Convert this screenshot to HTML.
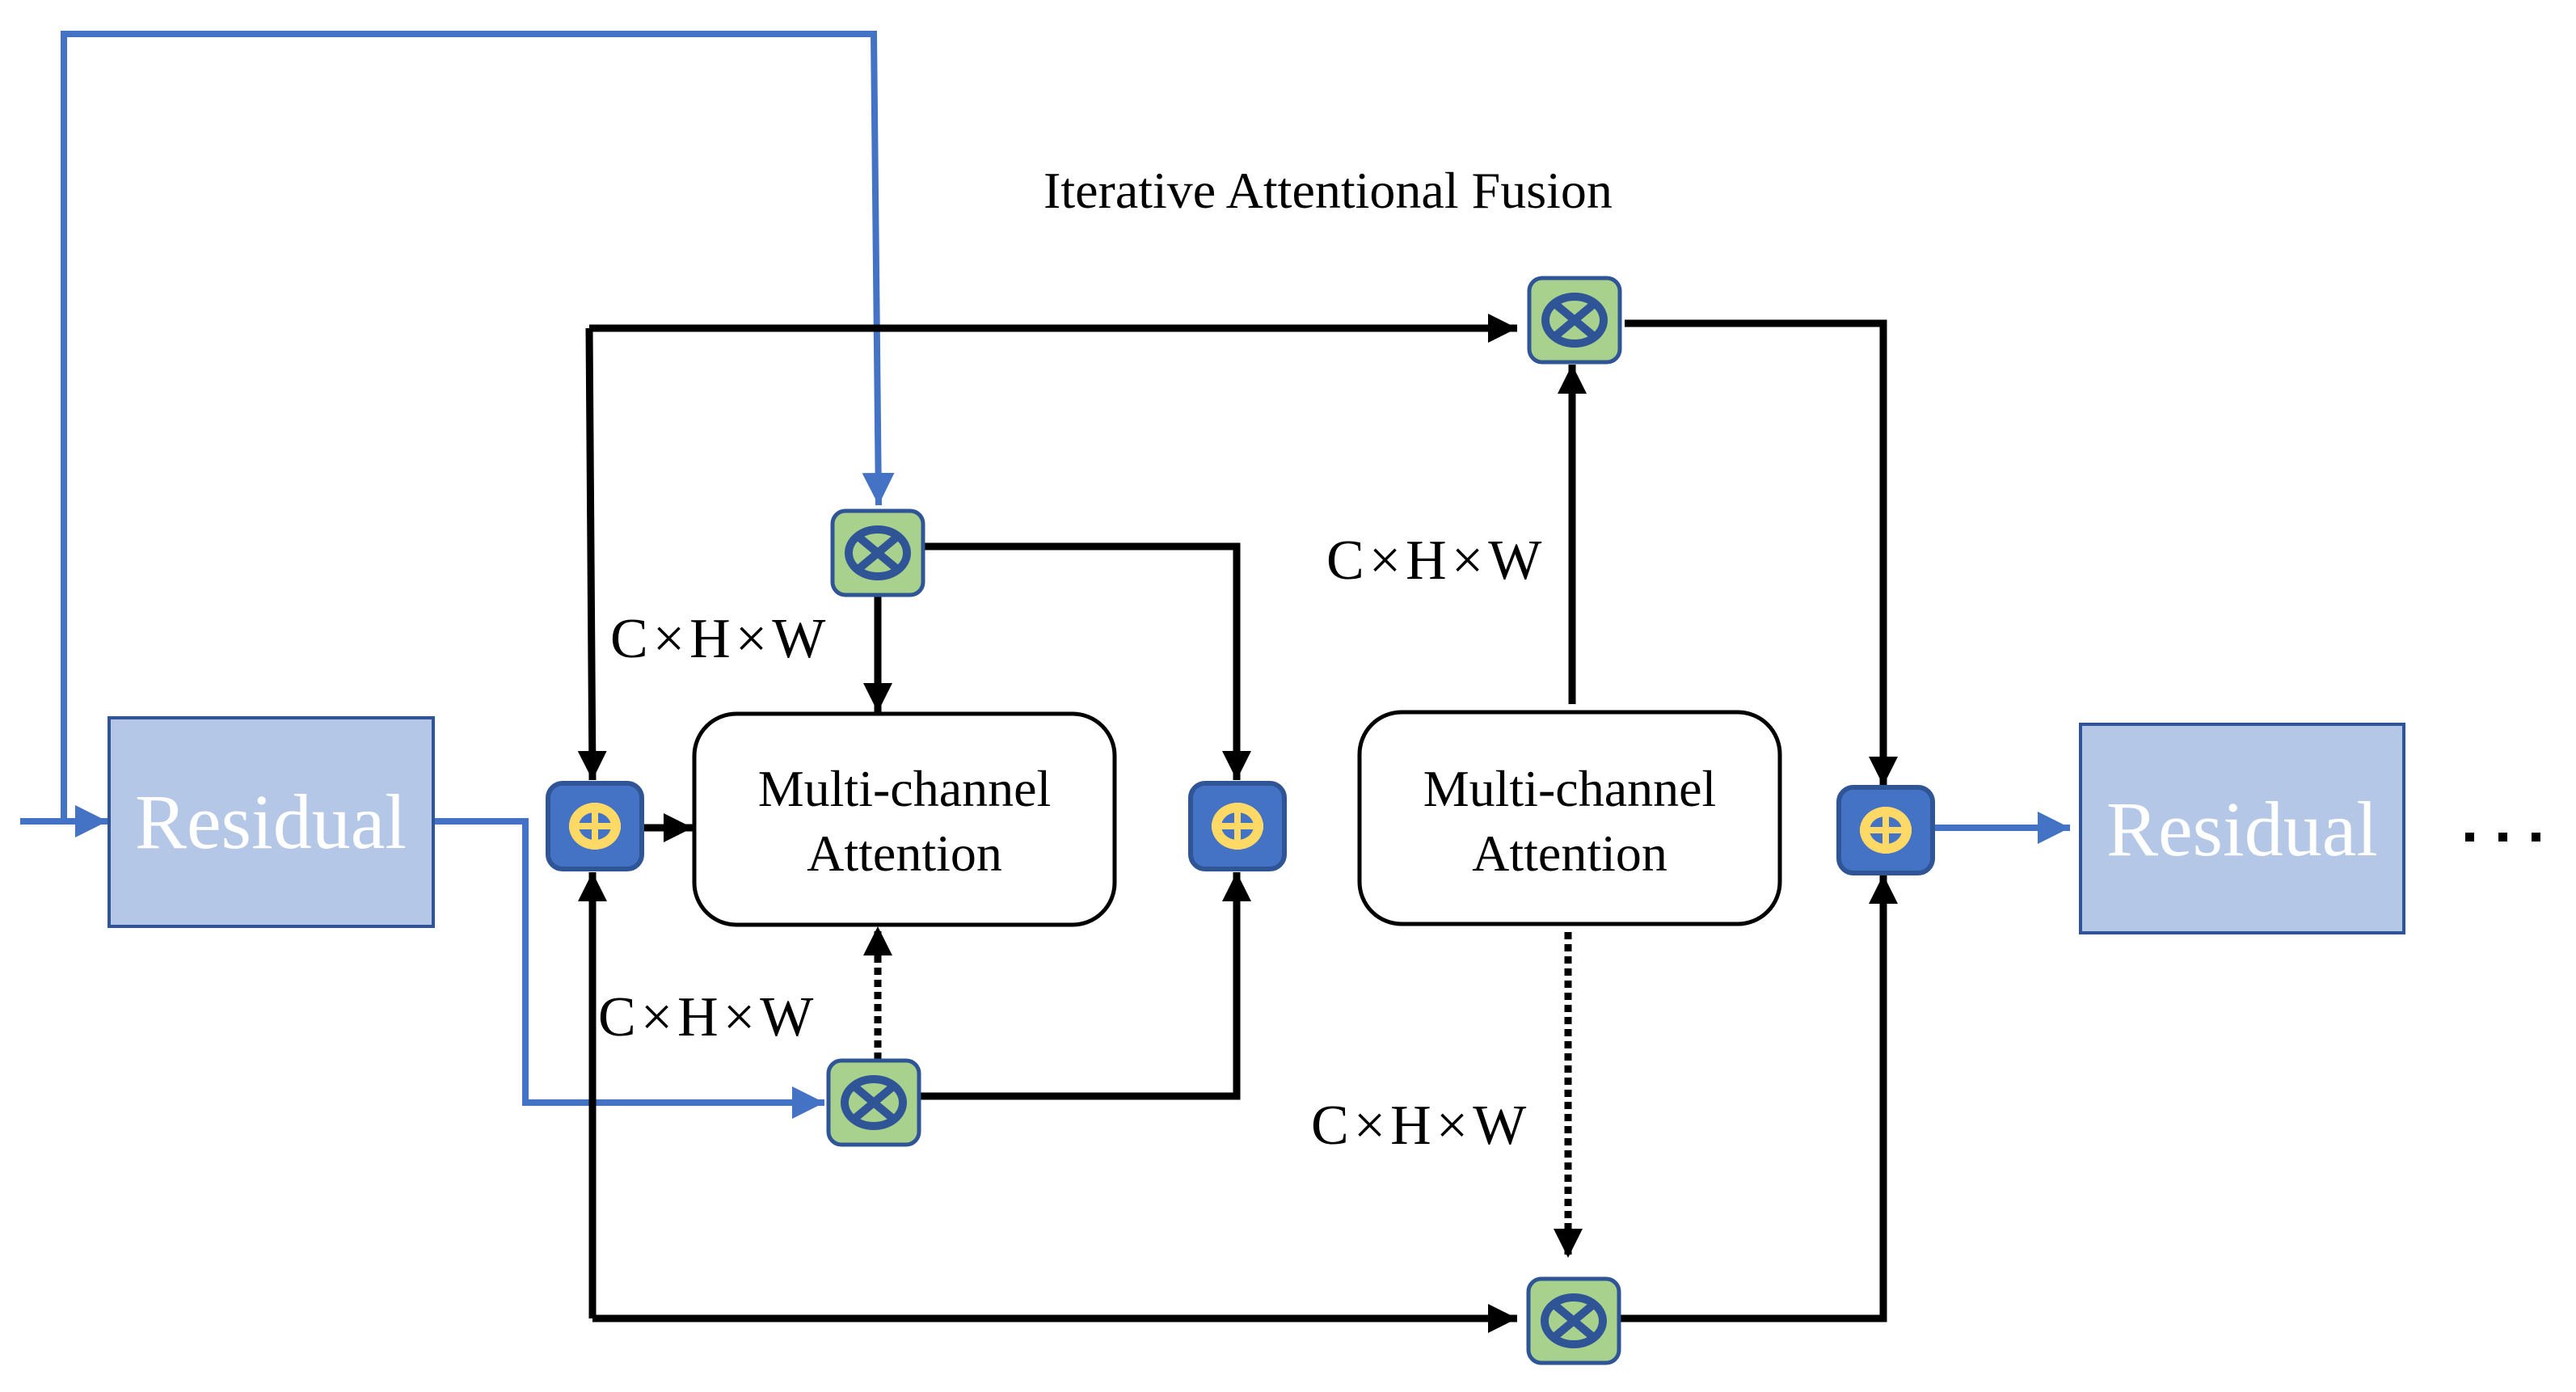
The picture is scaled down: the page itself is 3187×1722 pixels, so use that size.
<!DOCTYPE html>
<html><head><meta charset="utf-8"><style>
html,body{margin:0;padding:0;background:#fff}
svg{display:block}
text{font-family:"Liberation Serif",serif}
</style></head><body>
<svg width="3187" height="1722" viewBox="0 0 3187 1722" xmlns="http://www.w3.org/2000/svg">
<defs>
<marker id="ab" viewBox="0 0 10 10" refX="10" refY="5" markerWidth="4" markerHeight="4" orient="auto" markerUnits="strokeWidth"><path d="M0,0L10,5L0,10z" fill="#000"/></marker>
<marker id="abl" viewBox="0 0 10 10" refX="10" refY="5" markerWidth="5" markerHeight="5" orient="auto" markerUnits="strokeWidth"><path d="M0,0L10,5L0,10z" fill="#4472C4"/></marker>
<g id="mul">
<rect x="-56" y="-52" width="112" height="104" rx="16" fill="#A9D18E" stroke="#2F5597" stroke-width="5"/>
<ellipse cx="0" cy="0" rx="36" ry="29" fill="none" stroke="#2F5597" stroke-width="10"/>
<line x1="-24" y1="-20" x2="24" y2="20" stroke="#2F5597" stroke-width="10"/>
<line x1="-24" y1="20" x2="24" y2="-20" stroke="#2F5597" stroke-width="10"/>
</g>
<g id="plus">
<rect x="-58" y="-53" width="116" height="106" rx="18" fill="#4472C4" stroke="#2F5597" stroke-width="6"/>
<ellipse cx="0" cy="0" rx="32" ry="29" fill="#FFD966"/>
<ellipse cx="0" cy="0" rx="20" ry="17" fill="#4472C4"/>
<rect x="-4" y="-29" width="8" height="58" fill="#FFD966"/>
<rect x="-32" y="-4" width="64" height="8" fill="#FFD966"/>
</g>
</defs>

<g fill="none" stroke="#4472C4" stroke-width="8">
<polyline points="79,1016 79,42 1081,42 1087,625" marker-end="url(#abl)"/>
<line x1="25" y1="1016" x2="133" y2="1016" marker-end="url(#abl)"/>
<polyline points="536,1016 650,1016 650,1364 1020,1364" marker-end="url(#abl)"/>
<line x1="2391" y1="1024" x2="2561" y2="1024" marker-end="url(#abl)"/>
</g>

<g fill="none" stroke="#000" stroke-width="9">
<line x1="729" y1="406" x2="1877" y2="406" marker-end="url(#ab)"/>
<polyline points="729,406 733,965" marker-end="url(#ab)"/>
<line x1="733" y1="1631" x2="1877" y2="1631" marker-end="url(#ab)"/>
<polyline points="733,1631 733,1079" marker-end="url(#ab)"/>
<line x1="794" y1="1024" x2="857" y2="1024" marker-end="url(#ab)"/>
<line x1="1086" y1="736" x2="1086" y2="881" marker-end="url(#ab)"/>
<polyline points="1143,676 1530,676 1530,965" marker-end="url(#ab)"/>
<polyline points="1138,1356 1530,1356 1530,1079" marker-end="url(#ab)"/>
<line x1="1945" y1="871" x2="1945" y2="451" marker-end="url(#ab)"/>
<polyline points="2010,400 2330,400 2330,972" marker-end="url(#ab)"/>
<polyline points="2004,1631 2330,1631 2330,1082" marker-end="url(#ab)"/>
<line x1="1086" y1="1311" x2="1086" y2="1146" stroke-dasharray="9,6" marker-end="url(#ab)"/>
<line x1="1940" y1="1153" x2="1940" y2="1556" stroke-dasharray="9,6" marker-end="url(#ab)"/>
</g>

<rect x="135" y="888" width="401" height="258" fill="#B4C7E7" stroke="#2F5597" stroke-width="4"/>
<text x="335" y="1049" font-size="96" fill="#fff" text-anchor="middle">Residual</text>
<rect x="2574" y="896" width="400" height="258" fill="#B4C7E7" stroke="#2F5597" stroke-width="4"/>
<text x="2774" y="1058" font-size="96" fill="#fff" text-anchor="middle">Residual</text>

<rect x="859" y="883" width="520" height="261" rx="52" fill="#fff" stroke="#000" stroke-width="5"/>
<text x="1119" y="997" font-size="64" text-anchor="middle">Multi-channel</text>
<text x="1119" y="1077" font-size="64" text-anchor="middle">Attention</text>
<rect x="1682" y="881" width="520" height="262" rx="52" fill="#fff" stroke="#000" stroke-width="5"/>
<text x="1942" y="997" font-size="64" text-anchor="middle">Multi-channel</text>
<text x="1942" y="1077" font-size="64" text-anchor="middle">Attention</text>

<use href="#mul" x="1086" y="684"/>
<use href="#mul" x="1081" y="1364"/>
<use href="#mul" x="1948" y="396"/>
<use href="#mul" x="1947" y="1634"/>
<use href="#plus" x="736" y="1022"/>
<use href="#plus" x="1531" y="1022"/>
<use href="#plus" x="2333" y="1027"/>

<text x="1291" y="257" font-size="64">Iterative Attentional Fusion</text>
<text x="755" y="813" font-size="70" letter-spacing="6">C×H×W</text>
<text x="740" y="1281" font-size="70" letter-spacing="6">C×H×W</text>
<text x="1641" y="716" font-size="70" letter-spacing="6">C×H×W</text>
<text x="1622" y="1415" font-size="70" letter-spacing="6">C×H×W</text>

<rect x="3050" y="1030" width="11" height="11" fill="#000"/>
<rect x="3091" y="1030" width="11" height="11" fill="#000"/>
<rect x="3132" y="1030" width="11" height="11" fill="#000"/>
</svg>
</body></html>
